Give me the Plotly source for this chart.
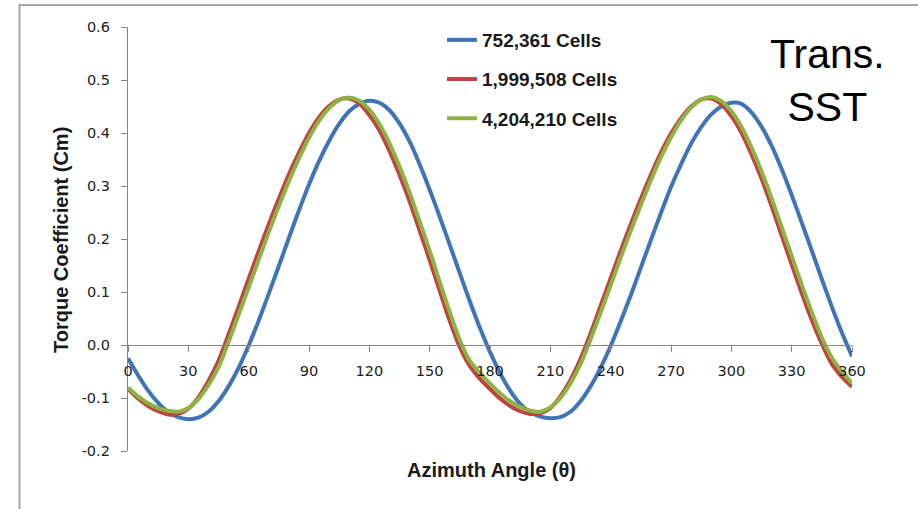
import plotly.graph_objects as go

# Azimuth angle (deg) and torque coefficient for three mesh sizes
theta = list(range(0, 361, 5))

cm_752k = [
    -0.025, -0.057, -0.086, -0.109, -0.126, -0.136, -0.140, -0.137, -0.126, -0.106,
    -0.078, -0.043, -0.001, 0.046, 0.097, 0.149, 0.202, 0.254, 0.303, 0.347,
    0.385, 0.417, 0.441, 0.455, 0.461, 0.457, 0.443, 0.418, 0.384, 0.341,
    0.293, 0.242, 0.189, 0.135, 0.082, 0.032, -0.013, -0.053, -0.086, -0.111,
    -0.127, -0.135, -0.138, -0.136, -0.126, -0.106, -0.078, -0.043, -0.002, 0.045,
    0.094, 0.146, 0.198, 0.249, 0.298, 0.341, 0.380, 0.411, 0.435, 0.450,
    0.457, 0.455, 0.439, 0.412, 0.376, 0.332, 0.283, 0.231, 0.178, 0.124,
    0.072, 0.023, -0.021,
]

cm_2m = [
    -0.083, -0.101, -0.115, -0.125, -0.131, -0.130, -0.120, -0.099, -0.068, -0.030,
    0.020, 0.072, 0.125, 0.177, 0.228, 0.276, 0.322, 0.363, 0.400, 0.430,
    0.451, 0.463, 0.465, 0.456, 0.434, 0.405, 0.366, 0.321, 0.271, 0.216,
    0.160, 0.102, 0.045, -0.004, -0.040, -0.064, -0.083, -0.101, -0.115, -0.125,
    -0.130, -0.129, -0.119, -0.097, -0.066, -0.026, 0.022, 0.074, 0.126, 0.178,
    0.228, 0.276, 0.321, 0.363, 0.399, 0.428, 0.450, 0.463, 0.465, 0.454,
    0.432, 0.401, 0.360, 0.314, 0.262, 0.207, 0.152, 0.098, 0.047, 0.002,
    -0.036, -0.060, -0.079,
]

cm_4m = [
    -0.080, -0.097, -0.110, -0.119, -0.124, -0.126, -0.119, -0.102, -0.076, -0.042,
    0.006, 0.057, 0.109, 0.161, 0.213, 0.262, 0.309, 0.352, 0.391, 0.423,
    0.447, 0.462, 0.467, 0.461, 0.444, 0.417, 0.381, 0.337, 0.288, 0.233,
    0.178, 0.119, 0.062, 0.009, -0.030, -0.053, -0.073, -0.091, -0.106, -0.117,
    -0.124, -0.126, -0.118, -0.100, -0.072, -0.036, 0.011, 0.061, 0.113, 0.165,
    0.216, 0.264, 0.311, 0.354, 0.392, 0.424, 0.448, 0.463, 0.468, 0.460,
    0.441, 0.412, 0.373, 0.328, 0.277, 0.223, 0.168, 0.114, 0.062, 0.014,
    -0.024, -0.050, -0.072,
]

series_names = ["752,361 Cells", "1,999,508 Cells", "4,204,210 Cells"]
series_colors = ["#3f74b9", "#bd4440", "#8db442"]

x_ticks = list(range(0, 361, 30))
y_ticks = [-0.2, -0.1, 0.0, 0.1, 0.2, 0.3, 0.4, 0.5, 0.6]
y_tick_text = ["-0.2", "-0.1", "0.0", "0.1", "0.2", "0.3", "0.4", "0.5", "0.6"]

# plot-area geometry in pixels (used to place the titles and the frame)
W, H = 918, 509
L, R, T, B = 128, 66, 27, 58
PW, PH = W - L - R, H - T - B


def px(xp):
    return (xp - L) / PW


def py(yp):
    return (H - B - yp) / PH


fig = go.Figure()
for i, ys in enumerate([cm_752k, cm_2m, cm_4m]):
    fig.add_trace(go.Scatter(
        x=theta, y=ys, mode="lines", name=series_names[i],
        legendgroup=f"g{i}",
        line=dict(color=series_colors[i], width=4, shape="spline", smoothing=0.8),
    ))

axis_col = "#878787"
tick_font = dict(family="DejaVu Sans", size=14.5, color="#1c1c1c")

fig.update_layout(
    width=W, height=H,
    margin=dict(l=L, r=R, t=T, b=B, autoexpand=False),
    paper_bgcolor="white", plot_bgcolor="white",
    showlegend=True,
    legend=dict(
        x=px(442), y=py(21), xanchor="left", yanchor="top",
        bgcolor="rgba(0,0,0,0)", traceorder="grouped", tracegroupgap=11.5,
        font=dict(family="Liberation Sans", size=19, color="#1a1a1a", weight="bold"),
        itemwidth=30,
    ),
    xaxis=dict(
        range=[0, 360], tickvals=x_ticks, ticks="outside", ticklen=6,
        tickcolor=axis_col, tickwidth=1.3, showline=True, linecolor=axis_col,
        linewidth=1.3, showgrid=False, zeroline=False,
        anchor="free", position=0.25, tickfont=tick_font, ticklabelstandoff=6,
    ),
    yaxis=dict(
        range=[-0.2, 0.6], tickvals=y_ticks, ticktext=y_tick_text,
        ticks="outside", ticklen=6, tickcolor=axis_col, tickwidth=1.3,
        showline=True, linecolor=axis_col, linewidth=1.3,
        showgrid=False, zeroline=False, tickfont=tick_font, ticklabelstandoff=8,
    ),
)

title_font = dict(family="Liberation Sans", size=20, color="#1a1a1a", weight="bold")
fig.add_annotation(
    text="Azimuth Angle (θ)", xref="paper", yref="paper",
    x=px(491), y=py(470), xanchor="center", yanchor="middle",
    showarrow=False, font=title_font,
)
fig.add_annotation(
    text="Torque Coefficient (Cm)", xref="paper", yref="paper",
    x=px(61), y=py(240), xanchor="center", yanchor="middle",
    showarrow=False, textangle=-90, font=title_font,
)
fig.add_annotation(
    text="Trans.<br>SST", xref="paper", yref="paper",
    x=px(827), y=py(80), xanchor="center", yanchor="middle",
    showarrow=False, align="center",
    font=dict(family="Liberation Sans", size=41, color="black"),
)

# chart frame
fig.add_shape(
    type="rect", xref="paper", yref="paper",
    x0=px(19.5), y0=py(W), x1=px(W + 40), y1=py(5),
    line=dict(color="#a6a6a6", width=2), fillcolor="rgba(0,0,0,0)", layer="below",
)

fig.write_html("out.html")
